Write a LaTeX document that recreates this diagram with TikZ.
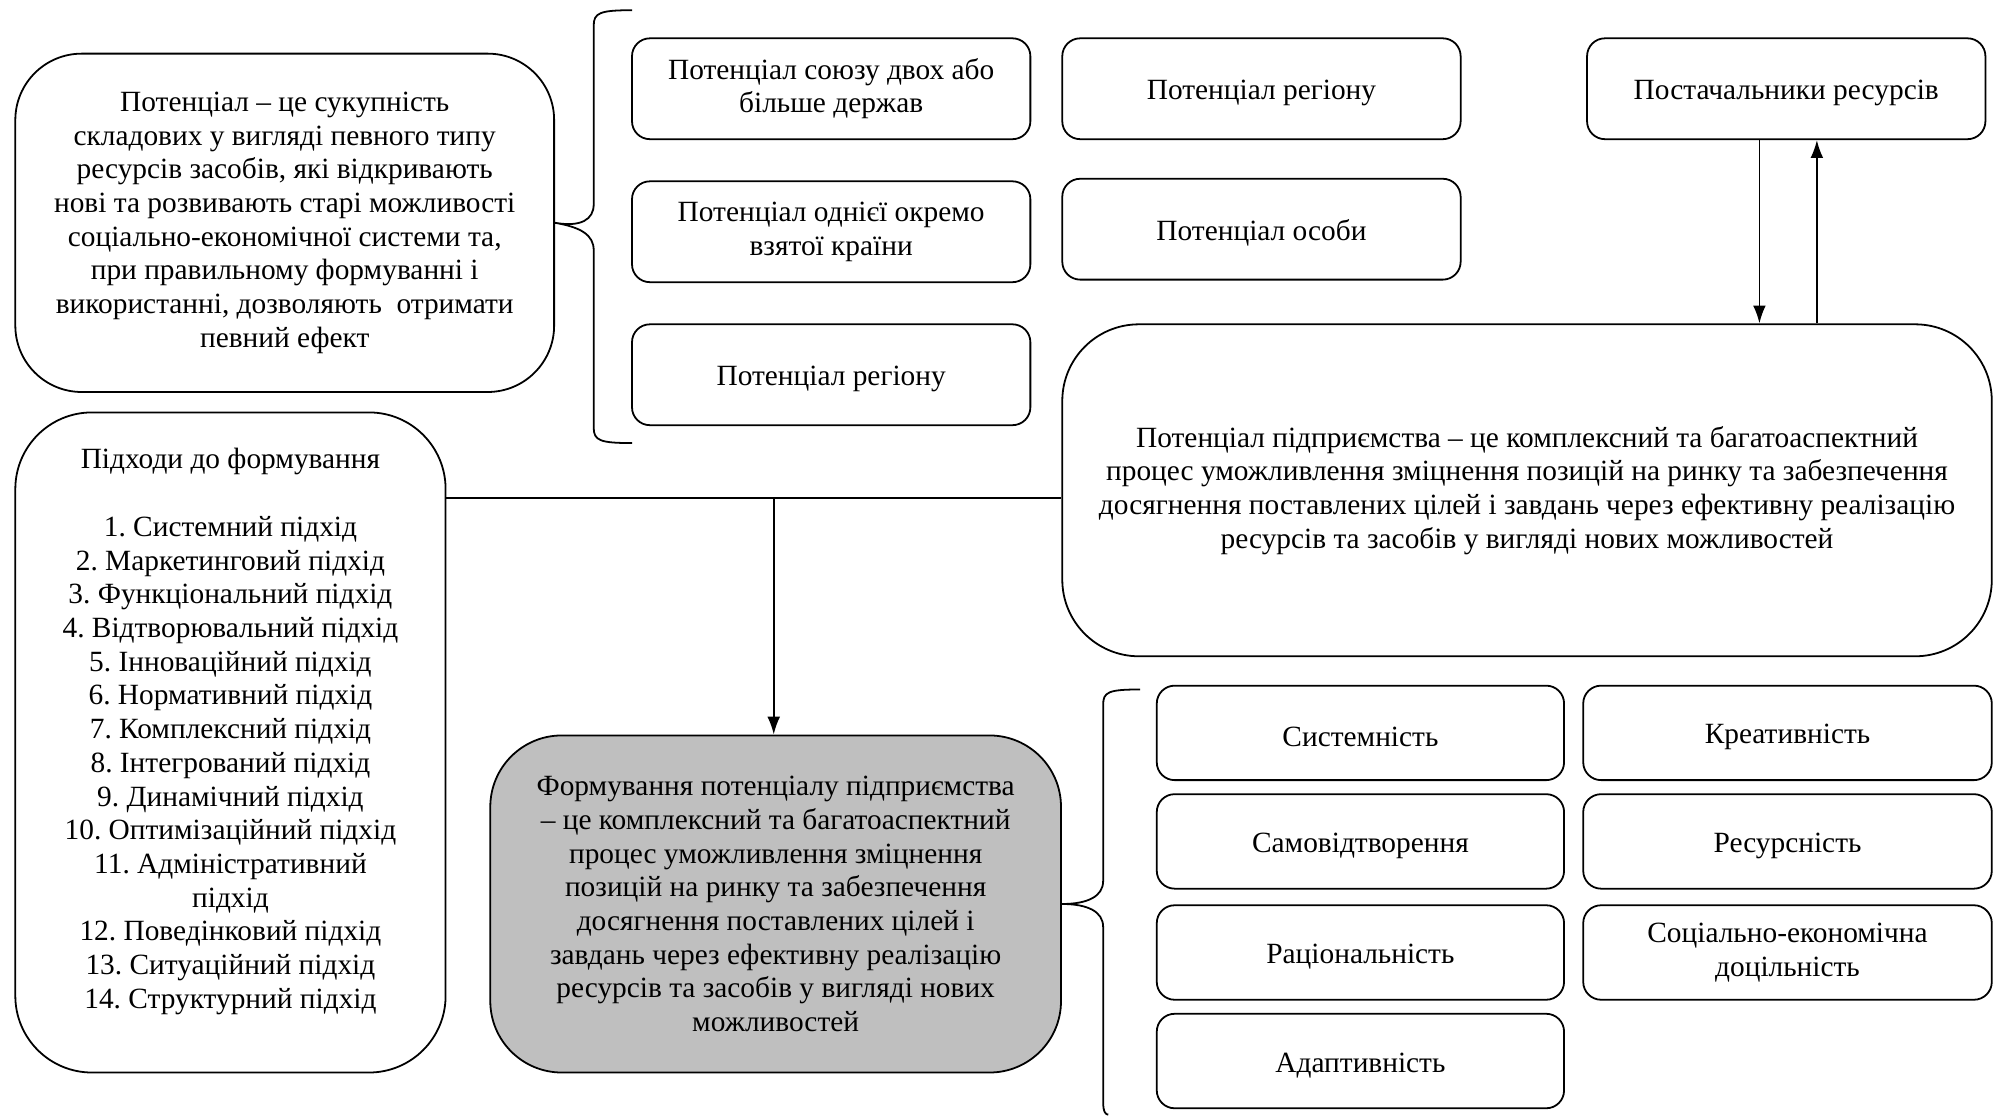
\documentclass[tikz,border=0pt]{standalone}
\usepackage{fontspec}
\setmainfont{Liberation Serif}
\usetikzlibrary{arrows.meta,calc}
\newcommand\firststrut{\rule{0pt}{11pt}}
\frenchspacing
\begin{document}
\begin{tikzpicture}[x=0.5pt,y=-0.5pt,
  txt/.style={font=\fontsize{11.5}{13.2}\selectfont, align=center, execute at begin node=\firststrut},
  box/.style={txt, draw, line width=0.7pt, rounded corners=7pt, inner sep=2pt},
  bigbox/.style={txt, draw, line width=0.7pt, rounded corners=26pt, inner sep=2pt},
  link/.style={line width=0.7pt},
  arr/.style={link, -{Latex[length=7pt,width=5pt]}},
  brace/.style={line width=0.7pt}]
\useasboundingbox (0,0) rectangle (1568,875);

% definition of potential
\node[bigbox, minimum width=211pt, minimum height=132.5pt] (def) at (223,174.5)
 {Потенціал – це сукупність\\складових у вигляді певного типу\\ресурсів засобів, які відкривають\\нові та розвивають старі можливості\\соціально-економічної системи та,\\при правильному формуванні і\\використанні, дозволяють\ \ отримати\\певний ефект};

% levels of potential
\node[box, minimum width=156pt, minimum height=39.5pt] (b1) at (651,69.5) {Потенціал союзу двох або\\більше держав};
\node[box, minimum width=156pt, minimum height=39.5pt] (b2) at (651,181.5) {Потенціал однієї окремо\\взятої країни};
\node[box, minimum width=156pt, minimum height=39.5pt] (b3) at (651,293.5) {Потенціал регіону};
\node[box, minimum width=156pt, minimum height=39.5pt] (c1) at (988,69.5) {Потенціал регіону};
\node[box, minimum width=156pt, minimum height=39.5pt] (c2) at (988,179.5) {Потенціал особи};
\node[box, minimum width=156pt, minimum height=39.5pt] (sup) at (1399,69.5) {Постачальники ресурсів};

% enterprise potential
\node[bigbox, rounded corners=30pt, minimum width=364pt, minimum height=130pt] (ent) at (1196,384)
 {Потенціал підприємства – це комплексний та багатоаспектний\\процес уможливлення зміцнення позицій на ринку та забезпечення\\досягнення поставлених цілей і завдань через ефективну реалізацію\\ресурсів та засобів у вигляді нових можливостей};

% approaches: frame and its list
\node[bigbox, rounded corners=30pt, minimum width=168.5pt, minimum height=258.5pt] (appr) at (180.5,581.5) {};
\node[txt] (apprtext) at (180.5,573)
 {Підходи до формування\\[13.2pt]1. Системний підхід\\2. Маркетинговий підхід\\3. Функціональний підхід\\4. Відтворювальний підхід\\5. Інноваційний підхід\\6. Нормативний підхід\\7. Комплексний підхід\\8. Інтегрований підхід\\9. Динамічний підхід\\10. Оптимізаційний підхід\\11. Адміністративний\\підхід\\12. Поведінковий підхід\\13. Ситуаційний підхід\\14. Структурний підхід};

% formation of enterprise potential
\node[bigbox, fill=gray!50, rounded corners=28pt, minimum width=223.5pt, minimum height=132pt] (form) at (607.5,708)
 {Формування потенціалу підприємства\\– це комплексний та багатоаспектний\\процес уможливлення зміцнення\\позицій на ринку та забезпечення\\досягнення поставлених цілей і\\завдань через ефективну реалізацію\\ресурсів та засобів у вигляді нових\\можливостей};

% principles
\node[box, minimum width=159.5pt, minimum height=37pt] (p1) at (1065.5,574) {Системність};
\node[box, minimum width=159.5pt, minimum height=37pt] (p2) at (1065.5,659) {Самовідтворення};
\node[box, minimum width=159.5pt, minimum height=37pt] (p3) at (1065.5,746) {Раціональність};
\node[box, minimum width=159.5pt, minimum height=37pt] (p4) at (1065.5,831) {Адаптивність};
\node[box, minimum width=160pt, minimum height=37pt] (q1) at (1400,574) {Креативність};
\node[box, minimum width=160pt, minimum height=37pt] (q2) at (1400,659) {Ресурсність};
\node[box, minimum width=160pt, minimum height=37pt] (q3) at (1400,746) {Соціально-економічна\\доцільність};

% brace from the definition to the levels
\coordinate (t1) at (def.east);
\draw[brace] (495,8) .. controls (470,8) and (465,10) .. (465,20)
  -- (465,160) .. controls (465,172) and (455,178) .. (t1)
  .. controls (455,178) and (465,184) .. (465,196)
  -- (465,335) .. controls (465,345) and (470,347) .. (495,347);

% brace from the formation to the principles
\coordinate (t2) at (form.east);
\draw[brace] (893,540) .. controls (868,540) and (864,542) .. (864,552)
  -- (864,690) .. controls (864,702) and (852,708) .. (t2)
  .. controls (852,708) and (864,714) .. (864,726)
  -- (864,863) .. controls (864,871) and (866,873) .. (868,873);

% exchange with suppliers
\coordinate (sd) at ($(sup.south)+(-21,0)$);
\coordinate (su) at ($(sup.south)+(24,0)$);
\draw[arr] (sd) -- (sd |- ent.north);
\draw[arr] (su |- ent.north) -- (su);

% approaches and enterprise potential lead to formation
\coordinate (j) at (606,390);
\draw[link] (appr.east |- j) -- (ent.west |- j);
\draw[arr] (j) -- (j |- form.north);
\end{tikzpicture}
\end{document}
